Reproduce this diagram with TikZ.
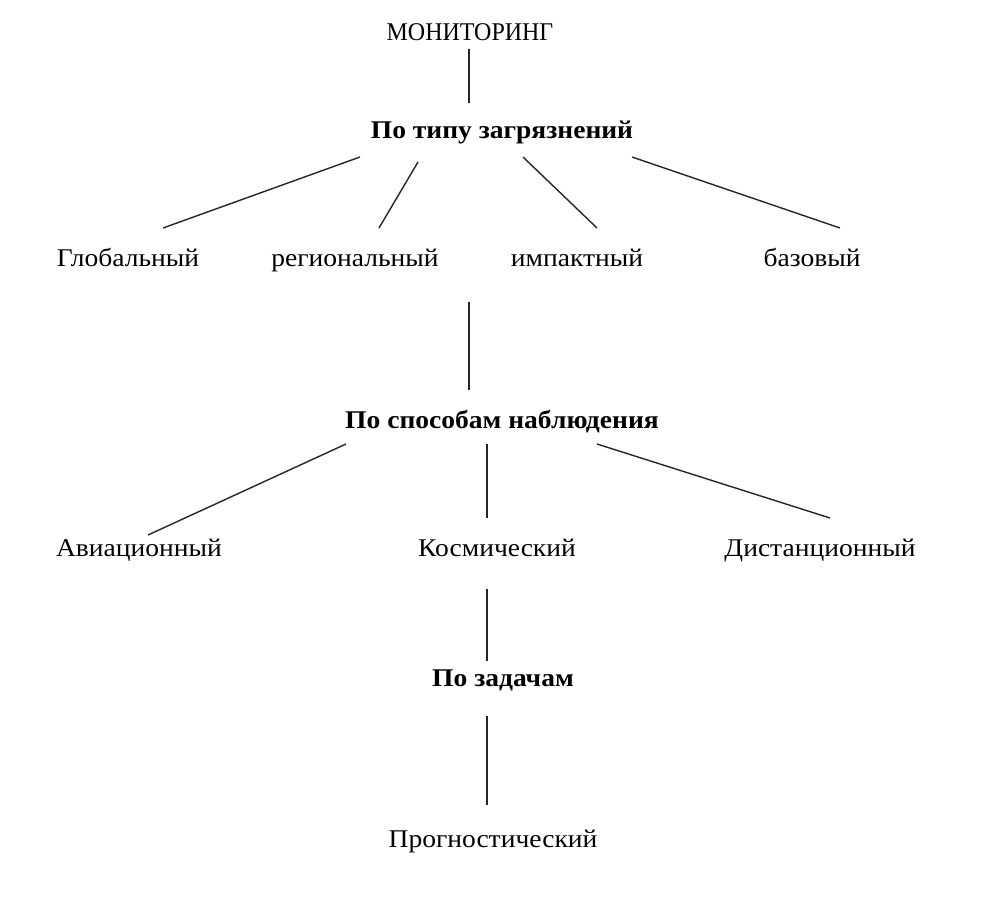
\documentclass[tikz,border=0pt]{standalone}
\usepackage{fontspec}
\setmainfont[FakeStretch=1.08]{Liberation Serif}
\newfontfamily\narrowserif[FakeStretch=0.94]{Liberation Serif}
\usetikzlibrary{calc}
\begin{document}
\begin{tikzpicture}[x=1pt,y=-1pt,
  lbl/.style={inner sep=0pt, anchor=base, font=\fontsize{25.5}{30}\selectfont},
  hdr/.style={inner sep=0pt, anchor=base, font=\fontsize{25.5}{30}\selectfont\bfseries},
  conn/.style={line width=1.4pt, black!85}]
\useasboundingbox[fill=white] (0,0) rectangle (982,900);
\node[lbl, font=\fontsize{25.5}{30}\narrowserif] (mon) at (470,40) {МОНИТОРИНГ};
\node[hdr] (tip) at (502,138) {По типу загрязнений};
\node[lbl] (glob) at (128,266) {Глобальный};
\node[lbl] (reg) at (355,266) {региональный};
\node[lbl] (imp) at (577,266) {импактный};
\node[lbl] (baz) at (812,266) {базовый};
\node[hdr] (spos) at (502,428) {По способам наблюдения};
\node[lbl] (avia) at (139,556) {Авиационный};
\node[lbl] (kosm) at (497,556) {Космический};
\node[lbl] (dist) at (820,556) {Дистанционный};
\node[hdr] (zad) at (503,686) {По задачам};
\node[lbl] (prog) at (493,847) {Прогностический};
\coordinate (r1) at (469,302);
\draw[conn] ($(mon.base)+(-1,9)$) -- ($(tip.base)+(-33,-35)$);
\draw[conn] ($(tip.base)+(-142,19)$) -- ($(glob.base)+(35,-38)$);
\draw[conn] ($(tip.base)+(-84,24)$) -- ($(reg.base)+(24,-38)$);
\draw[conn] ($(tip.base)+(21,19)$) -- ($(imp.base)+(20,-38)$);
\draw[conn] ($(tip.base)+(130,19)$) -- ($(baz.base)+(28,-38)$);
\draw[conn] (r1) -- ($(spos.base)+(-33,-38)$);
\draw[conn] ($(spos.base)+(-156,16)$) -- ($(avia.base)+(9,-21)$);
\draw[conn] ($(spos.base)+(-15,16)$) -- ($(kosm.base)+(-10,-38)$);
\draw[conn] ($(spos.base)+(95,16)$) -- ($(dist.base)+(10,-38)$);
\draw[conn] ($(kosm.base)+(-10,33)$) -- ($(zad.base)+(-16,-25)$);
\draw[conn] ($(zad.base)+(-16,30)$) -- ($(prog.base)+(-6,-42)$);
\end{tikzpicture}
\end{document}
